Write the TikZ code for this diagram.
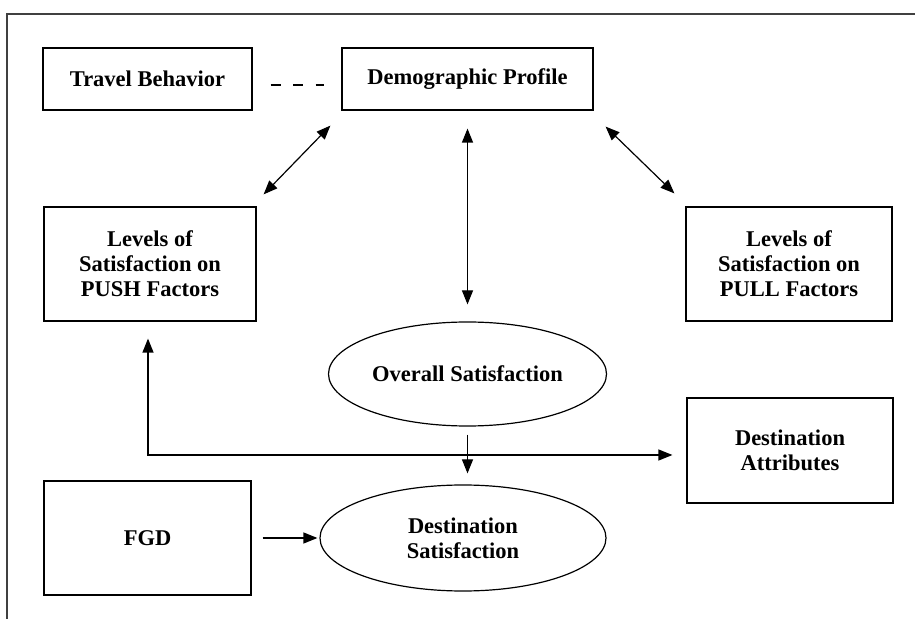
\documentclass[tikz,border=0pt]{standalone}
\usepackage{fontspec}
\setmainfont{Liberation Serif}
\usetikzlibrary{arrows.meta,calc,shapes.geometric}

\begin{document}
\begin{tikzpicture}[x=0.5pt,y=-0.5pt,
    every node/.style={font=\bfseries\fontsize{11.25}{12.5}\selectfont, align=center, inner sep=0pt},
    box/.style={draw, line width=0.6pt},
    oval/.style={draw, ellipse, line width=0.6pt},
    >={Triangle[length=7pt,width=5.5pt]}]
    \useasboundingbox (0,0) rectangle (915,619);
    \draw[line width=0.9pt, black!75] (7,619) -- (7,14) -- (915,14);

    \node[box, minimum width=104.5pt, minimum height=31pt] (trav) at (147.5,79) {Travel Behavior};
    \node[box, minimum width=125.5pt, minimum height=31pt] (demo) at (467.5,79) {Demographic Profile};
    \node[box, minimum width=106pt, minimum height=57pt] (push) at (150,264) {Levels of\\Satisfaction on\\PUSH Factors};
    \node[box, minimum width=103pt, minimum height=57pt] (pull) at (789,264) {Levels of\\Satisfaction on\\PULL Factors};
    \node[oval, minimum width=139pt, minimum height=52pt] (over) at (467.5,374) {Overall Satisfaction};
    \node[box, minimum width=103pt, minimum height=52.5pt] (attr) at (790,450.5) {Destination\\Attributes};
    \node[box, minimum width=103.5pt, minimum height=57pt] (fgd) at (147.5,538) {FGD};
    \node[oval, minimum width=143pt, minimum height=53pt] (dsat) at (463,538) {Destination\\Satisfaction};

    \coordinate (corner) at (148,455);

    \draw[line width=0.75pt, dash pattern=on 5pt off 6.25pt] ([shift={(18,6)}]trav.east) -- ([shift={(-17,6)}]demo.west);
    \draw[<->, line width=0.6pt] ([shift={(-11,15)}]demo.south west) -- ([shift={(7,-12)}]push.north east);
    \draw[<->, line width=0.6pt] ([shift={(12,16)}]demo.south east) -- ([shift={(-11,-13)}]pull.north west);
    \draw[<->, line width=0.6pt, shorten <=9pt, shorten >=8.5pt] (demo.south) -- (over.north);
    \draw[<->, line width=0.6pt, shorten <=8.5pt, shorten >=7pt] (push.south -| corner) -- (corner) -- (corner -| attr.west);
    \draw[->, line width=0.6pt, shorten <=4pt, shorten >=5.5pt] (over.south) -- (over.south |- dsat.north);
    \draw[->, line width=0.6pt, shorten <=5.5pt, shorten >=1pt] (fgd.east) -- (dsat.west);
\end{tikzpicture}
\end{document}
